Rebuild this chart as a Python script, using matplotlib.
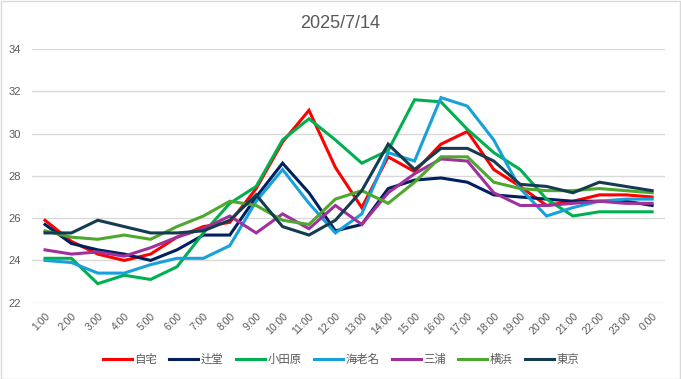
import numpy as np
import matplotlib
matplotlib.use('Agg')
import matplotlib.pyplot as plt
from matplotlib.patches import Rectangle

plt.rcParams['font.family'] = ['Liberation Sans', 'Noto Sans CJK JP', 'DejaVu Sans']

# 時刻
hours = ['1:00', '2:00', '3:00', '4:00', '5:00', '6:00', '7:00', '8:00',
         '9:00', '10:00', '11:00', '12:00', '13:00', '14:00', '15:00', '16:00',
         '17:00', '18:00', '19:00', '20:00', '21:00', '22:00', '23:00', '0:00']

# 地点別 気温
jitaku = [25.9, 24.9, 24.3, 24.0, 24.3, 25.1, 25.6, 25.8, 27.4, 29.6, 31.1, 28.4,
          26.5, 28.9, 28.2, 29.5, 30.1, 28.3, 27.5, 26.6, 26.8, 27.1, 27.1, 27.0]
tsujido = [25.7, 24.8, 24.5, 24.3, 24.0, 24.5, 25.2, 25.2, 27.0, 28.6, 27.2, 25.4,
           25.7, 27.4, 27.8, 27.9, 27.7, 27.1, 27.0, 26.9, 26.8, 26.8, 26.8, 26.6]
odawara = [24.1, 24.1, 22.9, 23.3, 23.1, 23.7, 25.3, 26.7, 27.5, 29.7, 30.7, 29.7,
           28.6, 29.2, 31.6, 31.5, 30.2, 29.1, 28.3, 26.9, 26.1, 26.3, 26.3, 26.3]
ebina = [24.0, 23.9, 23.4, 23.4, 23.8, 24.1, 24.1, 24.7, 26.8, 28.3, 26.7, 25.3,
         26.2, 29.1, 28.7, 31.7, 31.3, 29.7, 27.4, 26.1, 26.5, 26.8, 26.9, 26.9]
miura = [24.5, 24.3, 24.4, 24.2, 24.6, 25.1, 25.5, 26.1, 25.3, 26.2, 25.5, 26.6,
         25.7, 27.2, 28.1, 28.8, 28.7, 27.2, 26.6, 26.6, 26.7, 26.8, 26.7, 26.7]
yokohama = [25.4, 25.1, 25.0, 25.2, 25.0, 25.6, 26.1, 26.8, 26.6, 25.9, 25.7, 26.9,
            27.3, 26.7, 27.7, 28.9, 28.9, 27.7, 27.4, 27.3, 27.3, 27.4, 27.3, 27.2]
tokyo = [25.3, 25.3, 25.9, 25.6, 25.3, 25.3, 25.4, 25.9, 27.1, 25.6, 25.2, 25.9,
         27.3, 29.5, 28.3, 29.3, 29.3, 28.7, 27.6, 27.5, 27.2, 27.7, 27.5, 27.3]

series = [('自宅', jitaku, '#FF0000'),
          ('辻堂', tsujido, '#002060'),
          ('小田原', odawara, '#00B050'),
          ('海老名', ebina, '#17A1DA'),
          ('三浦', miura, '#A0309C'),
          ('横浜', yokohama, '#4EA72E'),
          ('東京', tokyo, '#143C50')]

gray = '#595959'

fig = plt.figure(figsize=(6.81, 3.79), dpi=100)
ax = fig.add_axes([0.0467, 0.2013, 0.9303, 0.6694])

x = np.arange(len(hours))
for name, vals, col in series:
    ax.plot(x, vals, color=col, lw=2.2, label=name, solid_joinstyle='miter')

ax.set_xlim(-0.5, len(hours) - 0.5)
ax.set_ylim(22, 34)
ax.set_yticks(range(22, 35, 2))
ax.set_xticks(x)
ax.set_xticklabels(hours, rotation=45, ha='right', rotation_mode='anchor')
ax.tick_params(axis='x', length=0, pad=6, labelsize=7.5, labelcolor=gray)
ax.tick_params(axis='y', length=0, pad=8, labelsize=8, labelcolor=gray)
ax.grid(axis='y', color='#D9D9D9', lw=1)
ax.set_axisbelow(True)
for s in ax.spines.values():
    s.set_visible(False)

fig.suptitle('2025/7/14', y=0.96, fontsize=13, color=gray)

fig.legend(loc='center', bbox_to_anchor=(341 / 681, 1 - 359 / 379), ncol=7,
           frameon=False, fontsize=8.2, handlelength=2.55, handletextpad=0.25,
           columnspacing=1.05, labelcolor=gray)

# 外枠
fig.patches.append(Rectangle((0.001, 0.001), 0.998, 0.997, transform=fig.transFigure,
                             fill=False, edgecolor='#D9D9D9', lw=1))

fig.savefig('out.png', dpi=100)
